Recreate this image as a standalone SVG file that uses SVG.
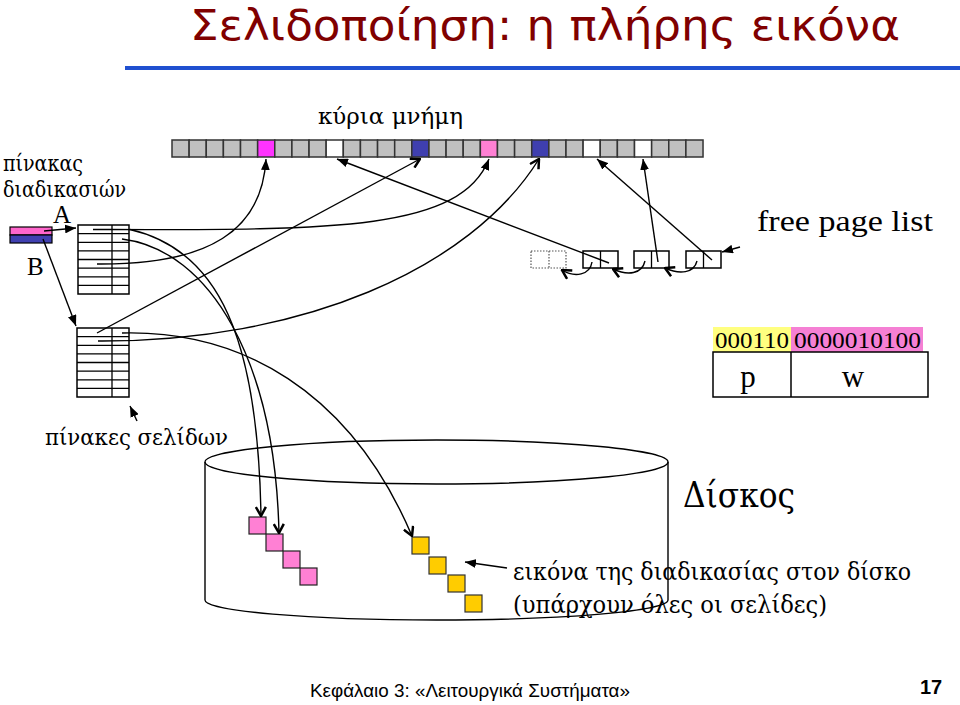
<svg xmlns="http://www.w3.org/2000/svg" width="960" height="705" viewBox="0 0 960 705">
<style>
.serif{font-family:"Liberation Serif","DejaVu Serif","Times New Roman",serif;fill:#000}
.gr{font-family:"DejaVu Serif","Liberation Serif",serif;fill:#000}
.sans{font-family:"Liberation Sans",Arial,sans-serif;fill:#000}
.cell{fill:#C0C0C0;stroke:#333;stroke-width:1.5}
.tbl{fill:#fff;stroke:#000;stroke-width:1.5}
.ln{stroke:#000;stroke-width:1.3;fill:none}
.c{fill:none;stroke:#000;stroke-width:1.4}
</style>
<defs>
<marker id="tri" viewBox="0 0 10 8" refX="10" refY="4" markerWidth="11" markerHeight="9" markerUnits="userSpaceOnUse" orient="auto"><path d="M0,0 L10,4 L0,8 z" fill="#000"/></marker>
<marker id="chev" viewBox="0 0 12 12" refX="11" refY="6" markerWidth="12" markerHeight="12" markerUnits="userSpaceOnUse" orient="auto"><path d="M2,1 L11,6 L2,11" fill="none" stroke="#000" stroke-width="2.5"/></marker>
</defs>
<rect width="960" height="705" fill="#fff"/>

<g id="title">
<text x="190" y="40" font-family="'DejaVu Sans Condensed','DejaVu Sans',Verdana,sans-serif" font-size="42" fill="#800000" textLength="710" lengthAdjust="spacingAndGlyphs">Σελιδοποίηση: η πλήρης εικόνα</text>
<line x1="125" y1="68" x2="960" y2="68" stroke="#2050D0" stroke-width="4"/>
</g>

<g id="memory">
<text class="gr" x="318" y="124" font-size="22" textLength="145" lengthAdjust="spacingAndGlyphs">κύρια μνήμη</text>
<rect class="cell" x="172" y="140" width="17.13" height="17"/>
<rect class="cell" x="189.13" y="140" width="17.13" height="17"/>
<rect class="cell" x="206.26" y="140" width="17.13" height="17"/>
<rect class="cell" x="223.39" y="140" width="17.13" height="17"/>
<rect class="cell" x="240.52" y="140" width="17.13" height="17"/>
<rect class="cell" x="257.65" y="140" width="17.13" height="17" style="fill:#FF33FF"/>
<rect class="cell" x="274.78" y="140" width="17.13" height="17"/>
<rect class="cell" x="291.91" y="140" width="17.13" height="17"/>
<rect class="cell" x="309.04" y="140" width="17.13" height="17"/>
<rect class="cell" x="326.17" y="140" width="17.13" height="17" style="fill:#fff"/>
<rect class="cell" x="343.3" y="140" width="17.13" height="17"/>
<rect class="cell" x="360.43" y="140" width="17.13" height="17"/>
<rect class="cell" x="377.56" y="140" width="17.13" height="17"/>
<rect class="cell" x="394.69" y="140" width="17.13" height="17"/>
<rect class="cell" x="411.82" y="140" width="17.13" height="17" style="fill:#3F3FAF"/>
<rect class="cell" x="428.95" y="140" width="17.13" height="17"/>
<rect class="cell" x="446.08" y="140" width="17.13" height="17"/>
<rect class="cell" x="463.21" y="140" width="17.13" height="17"/>
<rect class="cell" x="480.34" y="140" width="17.13" height="17" style="fill:#FF80D4"/>
<rect class="cell" x="497.47" y="140" width="17.13" height="17"/>
<rect class="cell" x="514.6" y="140" width="17.13" height="17"/>
<rect class="cell" x="531.73" y="140" width="17.13" height="17" style="fill:#3F3FAF"/>
<rect class="cell" x="548.86" y="140" width="17.13" height="17"/>
<rect class="cell" x="565.99" y="140" width="17.13" height="17"/>
<rect class="cell" x="583.12" y="140" width="17.13" height="17" style="fill:#fff"/>
<rect class="cell" x="600.25" y="140" width="17.13" height="17"/>
<rect class="cell" x="617.38" y="140" width="17.13" height="17"/>
<rect class="cell" x="634.51" y="140" width="17.13" height="17" style="fill:#fff"/>
<rect class="cell" x="651.64" y="140" width="17.13" height="17"/>
<rect class="cell" x="668.77" y="140" width="17.13" height="17"/>
<rect class="cell" x="685.9" y="140" width="17.13" height="17"/>
</g>

<g id="process-table">
<text class="gr" x="3" y="171" font-size="22" textLength="80" lengthAdjust="spacingAndGlyphs">πίνακας</text>
<text class="gr" x="3" y="197" font-size="22" textLength="123" lengthAdjust="spacingAndGlyphs">διαδικασιών</text>
<text class="serif" x="53" y="223" font-size="25">A</text>
<text class="serif" x="27" y="275" font-size="25">B</text>
<rect x="10" y="227" width="42" height="8" fill="#FF66CC" stroke="#000" stroke-width="1.2"/>
<rect x="10" y="235" width="42" height="8" fill="#4040B0" stroke="#000" stroke-width="1.2"/>
</g>

<g id="page-table-1">
<rect class="tbl" x="78" y="225" width="51" height="69"/>
<path class="ln" d="M78,233.6H129M78,242.3H129M78,250.9H129M78,259.5H129M78,268.1H129M78,276.8H129M78,285.4H129M112,225V294"/>
</g>

<g id="page-table-2">
<rect class="tbl" x="77" y="328" width="52" height="69"/>
<path class="ln" d="M77,336.6H129M77,345.3H129M77,353.9H129M77,362.5H129M77,371.1H129M77,379.8H129M77,388.4H129M112,328V397"/>
<text class="gr" x="45" y="445" font-size="22" textLength="183" lengthAdjust="spacingAndGlyphs">πίνακες σελίδων</text>
</g>

<g id="free-list">
<text class="serif" x="757" y="231" font-size="30" textLength="176" lengthAdjust="spacingAndGlyphs">free page list</text>
<rect x="531" y="251" width="35" height="17" fill="#fff" stroke="#555" stroke-width="1.2" stroke-dasharray="1.5,1.5"/>
<line x1="549" y1="251" x2="549" y2="268" stroke="#555" stroke-width="1.2" stroke-dasharray="1.5,1.5"/>
<rect class="tbl" x="583" y="251" width="35" height="17"/><line class="ln" x1="600.5" y1="251" x2="600.5" y2="268"/>
<rect class="tbl" x="634" y="251" width="35" height="17"/><line class="ln" x1="651.5" y1="251" x2="651.5" y2="268"/>
<rect class="tbl" x="686" y="251" width="35" height="17"/><line class="ln" x1="703.5" y1="251" x2="703.5" y2="268"/>
</g>

<g id="address">
<rect x="713" y="327" width="78" height="25" fill="#FFFF80"/>
<rect x="791" y="327" width="132" height="25" fill="#F580D4"/>
<text class="serif" x="715" y="348" font-size="23" textLength="74" lengthAdjust="spacingAndGlyphs">000110</text>
<text class="serif" x="794" y="348" font-size="23" textLength="127" lengthAdjust="spacingAndGlyphs">0000010100</text>
<rect x="713" y="352" width="215" height="45" fill="none" stroke="#000" stroke-width="1.5"/>
<line x1="791" y1="352" x2="791" y2="397" stroke="#000" stroke-width="1.5"/>
<text class="serif" x="748" y="387" font-size="31" text-anchor="middle">p</text>
<text class="serif" x="853" y="387" font-size="31" text-anchor="middle">w</text>
</g>

<g id="disk">
<ellipse cx="436.5" cy="462" rx="231.5" ry="22" fill="none" stroke="#000" stroke-width="1.4"/>
<path d="M205,462 L205,600 A231.5,20 0 0 0 668,600 L668,462" fill="none" stroke="#000" stroke-width="1.4"/>
<text class="gr" x="683" y="507" font-size="36" textLength="112" lengthAdjust="spacingAndGlyphs">Δίσκος</text>
<g fill="#FF80D4" stroke="#222" stroke-width="1.2">
<rect x="249" y="517" width="17" height="17"/>
<rect x="266" y="534" width="17" height="17"/>
<rect x="283" y="551" width="17" height="17"/>
<rect x="300" y="568" width="17" height="17"/>
</g>
<g fill="#FFCC00" stroke="#333" stroke-width="1.2">
<rect x="412" y="537" width="17" height="17"/>
<rect x="429" y="557" width="17" height="17"/>
<rect x="448" y="575" width="17" height="17"/>
<rect x="465" y="595" width="17" height="17"/>
</g>
<text class="gr" x="513" y="580" font-size="24" textLength="398" lengthAdjust="spacingAndGlyphs">εικόνα της διαδικασίας στον δίσκο</text>
<text class="gr" x="513" y="613" font-size="24" textLength="314" lengthAdjust="spacingAndGlyphs">(υπάρχουν όλες οι σελίδες)</text>
</g>

<g id="footer">
<text class="sans" x="310" y="697" font-size="19" textLength="320" lengthAdjust="spacingAndGlyphs">Κεφάλαιο 3:  «Λειτουργικά Συστήματα»</text>
<text class="sans" x="920" y="694" font-size="20" font-weight="bold">17</text>
</g>

<g id="connectors">
<path class="c" d="M44,231 L76,228" marker-end="url(#tri)"/>
<path class="c" d="M43,239 L76,326" marker-end="url(#tri)"/>
<path class="c" d="M137,421 L130,406" marker-end="url(#tri)"/>
<path class="c" d="M97,264 C210,265 262,230 266,159" marker-end="url(#tri)"/>
<path class="c" d="M93,229.5 C330,230 460,232 489,159" marker-end="url(#tri)"/>
<path class="c" d="M97,333 L420,159" marker-end="url(#chev)"/>
<path class="c" d="M98,341 C300,342 470,270 539,159" marker-end="url(#chev)"/>
<path class="c" d="M130,229.5 C220,250 258,340 261,516" marker-end="url(#chev)"/>
<path class="c" d="M122,239 C210,250 275,360 279,533" marker-end="url(#chev)"/>
<path class="c" d="M122,333 C240,330 350,390 412,536" marker-end="url(#chev)"/>
<path class="c" d="M609,263 L337,159" marker-end="url(#tri)"/>
<path class="c" d="M658,262 L643,159" marker-end="url(#tri)"/>
<path class="c" d="M712,260 L597,159" marker-end="url(#tri)"/>
<path class="c" d="M740,247 L722,252" marker-end="url(#tri)"/>
<path class="c" d="M592,262 C590,275 575,278 562,270" marker-end="url(#chev)"/>
<path class="c" d="M645,261 C642,274 628,276 613,269" marker-end="url(#chev)"/>
<path class="c" d="M697,261 C694,273 680,275 665,268" marker-end="url(#chev)"/>
<path class="c" d="M507,568 L465,562" marker-end="url(#tri)"/>
</g>
</svg>
